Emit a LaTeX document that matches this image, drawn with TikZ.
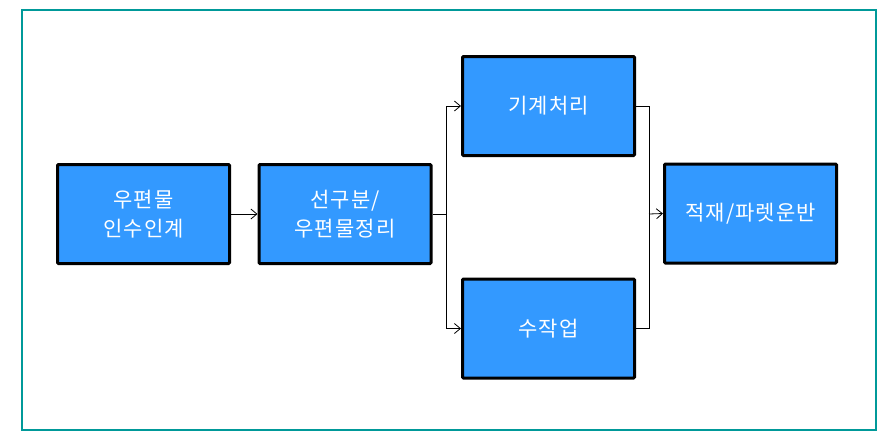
\documentclass[tikz,border=0pt]{standalone}
\usepackage{fontspec}
\setmainfont{Noto Sans CJK KR}[LetterSpace=5]
\usetikzlibrary{arrows.meta}
\definecolor{boxblue}{HTML}{3399FF}
\definecolor{frameteal}{HTML}{009999}
\begin{document}
\begin{tikzpicture}[x=1pt,y=-1pt,
  procbox/.style={draw=black,line width=3pt,fill=boxblue,minimum width=172pt,minimum height=99pt,
    inner sep=0pt,text=white,font=\fontsize{21}{29}\selectfont,align=center,rounded corners=1pt},
  conn/.style={draw=black,line width=0.8pt},
  arr/.style={conn,-{Straight Barb[length=6pt,width=10pt,line width=0.8pt]}}]
\useasboundingbox (0,0) rectangle (886,440);
\draw[frameteal,line width=2.5pt] (22,10) rectangle (876,430);
\node[procbox] (b1) at (143.5,214) {우편물\\인수인계};
\node[procbox] (b2) at (345,214) {선구분/\\우편물정리};
\node[procbox] (b3) at (548.5,106) {기계처리};
\node[procbox] (b4) at (548.5,328.5) {수작업};
\node[procbox] (b5) at (750.5,213.5) {적재/파렛운반};
\coordinate (sp) at (446,214);
\coordinate (jn) at (649,214);
\draw[arr] (b1.east) -- (b2.west);
\draw[conn] (b2.east) -- (sp);
\draw[arr] (sp) |- (b3.west);
\draw[arr] (sp) |- (b4.west);
\draw[conn] (b3.east) -| (jn);
\draw[conn] (b4.east) -| (jn);
\draw[arr] (jn) -- (b5.west);
\end{tikzpicture}
\end{document}
